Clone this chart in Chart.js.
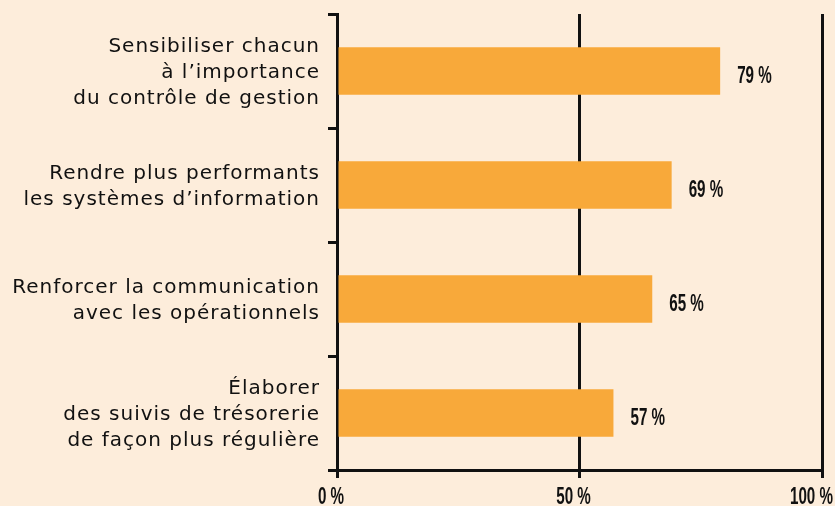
<!DOCTYPE html>
<html>
<head>
<meta charset="utf-8">
<script src="https://cdn.jsdelivr.net/npm/chart.js@4"></script>
<style>
  html, body { margin: 0; padding: 0; background: #fdeddb; }
  #wrap { width: 835px; height: 506px; }
</style>
</head>
<body>
<div id="wrap"><canvas id="chart"></canvas></div>
<script>
const categories = [
  ['Sensibiliser chacun', 'à l’importance', 'du contrôle de gestion'],
  ['Rendre plus performants', 'les systèmes d’information'],
  ['Renforcer la communication', 'avec les opérationnels'],
  ['Élaborer', 'des suivis de trésorerie', 'de façon plus régulière']
];
const values = [79, 69, 65, 57]; // % of respondents
const xTicks = [0, 50, 100];

const ink = '#111111';
const numFont = 'bold 23px "Liberation Sans", Arial, sans-serif';
const squeeze = 0.66; // condensed look for the numbers

function drawNarrow(ctx, text, x, y, align) {
    const w = ctx.measureText(text).width * squeeze;
    let left = x;
    if (align === 'center') left = x - w / 2;
    ctx.save();
    ctx.translate(left, y);
    ctx.scale(squeeze, 1);
    ctx.fillText(text, 0, 0);
    ctx.restore();
    return w;
}

// spaced-out category labels
const spacing = {
    id: 'spacing',
    beforeDraw(chart) { chart.ctx.letterSpacing = '1px'; }
};

// percent labels next to bars + condensed x tick labels
const numberLabels = {
    id: 'numberLabels',
    afterDraw(chart) {
        const ctx = chart.ctx;
        ctx.save();
        ctx.letterSpacing = '0px';
        ctx.fillStyle = ink;
        ctx.font = numFont;
        ctx.textAlign = 'left';
        ctx.textBaseline = 'alphabetic';

        const meta = chart.getDatasetMeta(0);
        meta.data.forEach((bar, i) => {
            drawNarrow(ctx, values[i] + ' %', bar.x + 17, bar.y + 12, 'left');
        });

        const xs = chart.scales.x;
        xs.ticks.forEach(t => {
            const text = t.value + ' %';
            const w = ctx.measureText(text).width * squeeze;
            let cx = xs.getPixelForValue(t.value) - 6;
            cx = Math.min(cx, chart.width - 2 - w / 2);
            drawNarrow(ctx, text, cx, 504, 'center');
        });
        ctx.restore();
    }
};

const ctx = document.getElementById('chart').getContext('2d');
new Chart(ctx, {
    type: 'bar',
    data: {
        labels: categories,
        datasets: [{
            data: values,
            backgroundColor: '#f8a93a',
            borderWidth: 0,
            barPercentage: 0.415,
            categoryPercentage: 1
        }]
    },
    options: {
        indexAxis: 'y',
        responsive: true,
        maintainAspectRatio: false,
        animation: false,
        layout: { padding: { top: 14, right: 13, bottom: 0, left: 0 } },
        plugins: {
            legend: { display: false },
            tooltip: { enabled: false }
        },
        scales: {
            x: {
                min: 0,
                max: 100,
                afterBuildTicks: scale => { scale.ticks = xTicks.map(v => ({ value: v })); },
                afterFit: scale => { scale.paddingLeft = 0; scale.paddingRight = 0; scale.height = 36; },
                grid: { color: ink, lineWidth: 3, tickLength: 8 },
                border: { display: true, color: ink, width: 3 },
                ticks: {
                    callback: v => v + ' %',
                    color: 'rgba(0,0,0,0)', // drawn condensed by numberLabels
                    font: { size: 20, weight: 'bold' },
                    padding: 4,
                    maxRotation: 0
                }
            },
            y: {
                afterFit: scale => { scale.width = 337; scale.paddingTop = 0; scale.paddingBottom = 0; },
                grid: { offset: true, drawOnChartArea: false, color: ink, lineWidth: 3, tickLength: 9 },
                border: { display: true, color: ink, width: 3 },
                ticks: {
                    color: ink,
                    font: { family: 'DejaVu Sans', size: 20, lineHeight: 1.3 },
                    padding: 8,
                    labelOffset: 2
                }
            }
        }
    },
    plugins: [spacing, numberLabels]
});
</script>
</body>
</html>
